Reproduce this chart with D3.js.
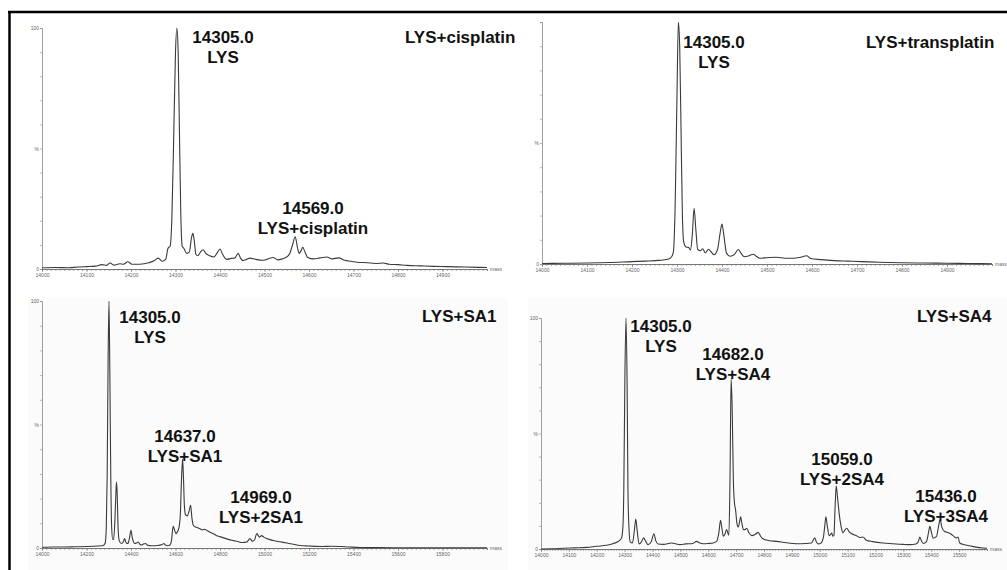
<!DOCTYPE html>
<html><head><meta charset="utf-8">
<script src="https://cdn.jsdelivr.net/npm/d3@7"></script>
<style>html,body{margin:0;padding:0;background:#fff;}svg{display:block;}</style>
</head><body>
<svg id="chart" width="1007" height="570"></svg>
<script>
// ---------- DATA (mass in Da, relative intensity in %) ----------
const cisplatinSpectrum = [[14000,0.5],[14030,0.6],[14060,0.5],[14080,0.8],[14100,1.0],[14120,1.2],[14135,1.8],[14145,1.5],[14153,2.5],[14162,1.6],[14175,2.2],[14183,2.0],[14193,3.0],[14202,2.0],[14220,2.0],[14240,2.6],[14252,3.4],[14261,4.5],[14270,3.2],[14278,4.0],[14283,8.5],[14288,9.5],[14292,22],[14296,55],[14300,90],[14303,100],[14306,90],[14309,55],[14312,22],[14315,9.5],[14319,8.5],[14325,6.5],[14331,7],[14336,13],[14339,14.8],[14342,12],[14346,6],[14350,5.5],[14356,7],[14362,8],[14368,6.5],[14377,5.5],[14386,5],[14393,6.5],[14400,8.3],[14406,6],[14415,4],[14425,4.4],[14433,4.5],[14441,6.5],[14446,4.5],[14452,3.5],[14460,4.0],[14467,4.5],[14480,4.0],[14495,3.6],[14505,4.0],[14519,4.8],[14530,3.8],[14540,4.2],[14550,5.0],[14557,6.5],[14563,10],[14569,13.4],[14574,9],[14578,6.5],[14582,7.5],[14586,9],[14591,7],[14597,4.8],[14610,4.2],[14625,4.6],[14640,5.0],[14652,4.2],[14667,4.6],[14680,3.6],[14695,3.2],[14708,2.8],[14730,2.6],[14750,2.3],[14767,2.5],[14780,2.0],[14800,1.8],[14820,1.5],[14850,1.3],[14880,1.1],[14910,1.0],[14950,0.8],[15000,0.6]];

const transplatinSpectrum = [[14000,0.2],[14050,0.3],[14100,0.4],[14150,0.6],[14200,1.0],[14230,1.2],[14260,1.5],[14280,2.0],[14288,3.0],[14292,5],[14296,25],[14300,70],[14303,100],[14306,90],[14309,55],[14312,20],[14315,9],[14320,7],[14326,6.8],[14330,5.8],[14334,12],[14338,23],[14342,14],[14346,6],[14352,5.5],[14357,6.3],[14363,4.6],[14370,6.1],[14376,5],[14382,3.8],[14390,6],[14396,13],[14400,16.5],[14404,12],[14410,4.5],[14418,3.2],[14428,4],[14436,6],[14442,4.5],[14450,3.0],[14460,3.4],[14469,4.0],[14476,3.2],[14484,2.4],[14500,2.6],[14521,2.8],[14540,2.4],[14558,2.4],[14575,2.8],[14588,3.4],[14597,2.3],[14620,1.8],[14650,1.4],[14680,1.2],[14710,1.0],[14750,0.7],[14800,0.5],[14850,0.4],[14900,0.3],[14950,0.2],[15000,0.1]];

const sa1Spectrum = [[14000,0.3],[14050,0.4],[14100,0.4],[14150,0.5],[14200,0.6],[14250,0.8],[14275,1.0],[14284,2],[14289,8.5],[14293,30],[14297,75],[14301,100],[14305,70],[14309,30],[14313,8.5],[14318,3.5],[14322,3.5],[14328,12],[14332,22],[14335,26.7],[14338,22],[14342,8],[14347,3],[14357,1.8],[14365,2.4],[14371,3.8],[14378,2.2],[14386,1.8],[14393,4],[14400,7.2],[14406,4],[14418,1.8],[14425,2],[14432,2.4],[14440,1.5],[14447,1.2],[14456,1.6],[14465,1.8],[14475,1.1],[14490,0.9],[14520,1.0],[14540,1.4],[14547,1.8],[14555,1.2],[14565,0.9],[14575,1.2],[14582,3],[14587,7.5],[14590,8.8],[14595,7.5],[14602,5.8],[14608,6.5],[14612,7.2],[14617,9],[14622,14],[14627,28],[14632,36],[14636,28],[14640,17],[14645,13.5],[14653,13],[14660,14.5],[14668,17.3],[14674,12],[14680,9.2],[14690,8.5],[14700,8.2],[14710,7.8],[14720,7.3],[14730,7.6],[14740,7.2],[14755,6.4],[14770,5.8],[14785,5.0],[14800,4.6],[14820,4.0],[14840,3.4],[14860,3.0],[14880,2.6],[14900,2.2],[14920,2.4],[14935,3.8],[14945,2.8],[14955,3.2],[14965,5.8],[14972,5.0],[14977,4.4],[14987,5.0],[14997,4.4],[15010,3.8],[15040,3.0],[15070,2.5],[15100,2.0],[15130,1.5],[15160,1.0],[15200,0.8],[15260,0.6],[15300,0.7],[15340,0.6],[15380,0.4],[15430,0.2],[15500,0.15],[15700,0.1],[16000,0.1]];

const sa4Spectrum = [[14000,0],[14040,0.1],[14080,0.3],[14120,0.5],[14164,0.7],[14200,1.2],[14235,1.6],[14255,2.2],[14265,2.6],[14280,3.5],[14289,4.8],[14294,10],[14297,25],[14301,75],[14305,100],[14309,70],[14312,25],[14316,8],[14320,3],[14328,2.6],[14335,8],[14340,13],[14345,8],[14352,2.2],[14360,3.0],[14368,4.8],[14376,3.2],[14384,1.9],[14395,3],[14405,6.6],[14412,3.5],[14420,2.2],[14440,2.0],[14468,2.6],[14485,2.2],[14498,1.9],[14520,2.2],[14545,2.4],[14558,3.3],[14570,2.6],[14582,2.3],[14600,2.4],[14618,2.6],[14630,3.3],[14638,7],[14644,12.4],[14649,9],[14654,5.5],[14660,6.5],[14666,8.4],[14670,7],[14674,6],[14678,30],[14682,73.7],[14686,60],[14690,30],[14694,20],[14698,17],[14703,11],[14708,9.5],[14712,11.5],[14716,13.9],[14721,11],[14726,8.4],[14732,8.4],[14738,9],[14746,7],[14756,5.8],[14768,6.3],[14779,7.2],[14788,5.5],[14797,4.3],[14820,3.6],[14845,3.3],[14880,2.7],[14916,2.3],[14950,2.4],[14970,2.6],[14982,4.8],[14988,3],[14994,2.2],[15005,2.6],[15013,5],[15018,10],[15022,13.9],[15027,10],[15034,5.8],[15040,6.5],[15043,6.9],[15047,5.5],[15051,6],[15055,18],[15059,27.4],[15064,22],[15071,14],[15077,9.5],[15083,7],[15090,8.2],[15097,9],[15105,7.5],[15115,6.6],[15130,5.8],[15145,5.0],[15155,5.2],[15167,3.8],[15190,3.2],[15227,2.6],[15260,2.3],[15300,2.0],[15323,1.9],[15345,2.2],[15353,3],[15359,5.2],[15365,3.5],[15371,2.4],[15383,3.2],[15390,7],[15395,9.8],[15401,7],[15407,4.7],[15413,5],[15419,5.5],[15425,9],[15432,12.7],[15438,9.5],[15448,7.6],[15458,7.2],[15466,6.8],[15478,5.8],[15490,4.8],[15496,5.2],[15502,2.6],[15520,1.8],[15538,1.4],[15560,0.8],[15584,0.4],[15600,0.3]];

// x tick labels per panel
const ticksCis   = [14000,14100,14200,14300,14400,14500,14600,14700,14800,14900];
const ticksTrans = [14000,14100,14200,14300,14400,14500,14600,14700,14800,14900];
const ticksSA1   = [14000,14200,14400,14600,14800,15000,15200,15400,15600,15800];
const ticksSA4   = [14000,14100,14200,14300,14400,14500,14600,14700,14800,14900,15000,15100,15200,15300,15400,15500];

// panel titles and peak annotations (text)
const panelTitles = ["LYS+cisplatin","LYS+transplatin","LYS+SA1","LYS+SA4"];
const cisPeaks   = [["14305.0","LYS"],["14569.0","LYS+cisplatin"]];
const transPeaks = [["14305.0","LYS"]];
const sa1Peaks   = [["14305.0","LYS"],["14637.0","LYS+SA1"],["14969.0","LYS+2SA1"]];
const sa4Peaks   = [["14305.0","LYS"],["14682.0","LYS+SA4"],["15059.0","LYS+2SA4"],["15436.0","LYS+3SA4"]];

// ---------- LAYOUT ----------
const svg = d3.select("#chart");
const FONT = "'Liberation Sans', Arial, Helvetica, sans-serif";

// very subtle panel backgrounds of the lower row
svg.append("rect").attr("x",28).attr("y",298).attr("width",480).attr("height",272).attr("fill","#fbfbfb");
svg.append("rect").attr("x",528).attr("y",298).attr("width",479).attr("height",272).attr("fill","#fbfbfb");

const panels = [
  {data:cisplatinSpectrum, ticks:ticksCis, x:[42,487], y:[269,28], dom:[14000,15000], minor:10, show100:true,
   title:[405,43], peaks:cisPeaks, peakPos:[[223,43],[313,214]]},
  {data:transplatinSpectrum, ticks:ticksTrans, x:[542,992], y:[264,22], dom:[14000,15000], minor:10, show100:false,
   title:[866,48], peaks:transPeaks, peakPos:[[714,48]]},
  {data:sa1Spectrum, ticks:ticksSA1, x:[42,487], y:[548,301], dom:[14000,16000], minor:20, show100:true,
   title:[422,322], peaks:sa1Peaks, peakPos:[[150,323],[185,442],[261,503]]},
  {data:sa4Spectrum, ticks:ticksSA4, x:[541,987], y:[549,318], dom:[14000,15600], minor:10, show100:true,
   title:[917,322], peaks:sa4Peaks, peakPos:[[661,332],[733,360],[842,465],[946,502]]}
];

panels.forEach((p,i) => {
  const x = d3.scaleLinear().domain(p.dom).range(p.x);
  const y = d3.scaleLinear().domain([0,100]).range(p.y);
  const g = svg.append("g");

  // x axis: minor ticks
  const minorTicks = d3.range(p.dom[0], p.dom[1] + 0.001, p.minor);
  const xAxisMinor = d3.axisBottom(x).tickValues(minorTicks).tickSize(2).tickFormat("");
  const ga = g.append("g").attr("transform",`translate(0,${p.y[0]})`).call(xAxisMinor);
  // major ticks + labels
  const xAxis = d3.axisBottom(x).tickValues(p.ticks).tickSize(3).tickPadding(1).tickFormat(d3.format("d"));
  const gb = g.append("g").attr("transform",`translate(0,${p.y[0]})`).call(xAxis);
  [ga,gb].forEach(a => {
    a.select(".domain").attr("stroke","#555").attr("stroke-width",0.8);
    a.selectAll(".tick line").attr("stroke","#777").attr("stroke-width",0.6);
    a.selectAll(".tick text").attr("fill","#666").style("font-family",FONT).style("font-size","5px");
  });
  gb.select(".domain").remove();
  // "mass" label
  g.append("text").attr("x",p.x[1]+3).attr("y",p.y[0]+2).text("mass")
    .attr("fill","#666").style("font-family",FONT).style("font-size","5px");

  // y axis
  const yAxis = d3.axisLeft(y).tickValues(d3.range(0,101,10)).tickSize(2).tickPadding(1)
    .tickFormat(d => d===0 ? "0" : d===50 ? "%" : (d===100 && p.show100) ? "100" : "");
  const gy = g.append("g").attr("transform",`translate(${p.x[0]},0)`).call(yAxis);
  gy.select(".domain").attr("stroke","#888").attr("stroke-width",0.8);
  gy.selectAll(".tick line").attr("stroke","#888").attr("stroke-width",0.6);
  gy.selectAll(".tick text").attr("fill","#666").style("font-family",FONT).style("font-size","5px");

  // spectrum trace
  const line = d3.line().x(d => x(d[0])).y(d => y(d[1])).curve(d3.curveMonotoneX);
  g.append("path").datum(p.data).attr("d",line).attr("fill","none")
    .attr("stroke","#3a3a3a").attr("stroke-width",1.1).attr("stroke-linejoin","round");

  // title
  g.append("text").attr("x",p.title[0]).attr("y",p.title[1]).text(panelTitles[i])
    .attr("fill","#111").style("font-family",FONT).style("font-weight","bold").style("font-size","17px");

  // peak annotations
  p.peaks.forEach((pk,j) => {
    const [cx,by] = p.peakPos[j];
    const t = g.append("text").attr("text-anchor","middle").attr("fill","#111")
      .style("font-family",FONT).style("font-weight","bold").style("font-size","17px");
    t.append("tspan").attr("x",cx).attr("y",by).text(pk[0]);
    t.append("tspan").attr("x",cx).attr("y",by+19.5).text(pk[1]);
  });
});

// outer frame (top and left edges visible)
svg.append("line").attr("x1",9.5).attr("x2",9.5).attr("y1",11).attr("y2",570).attr("stroke","#000").attr("stroke-width",2.5);
svg.append("line").attr("x1",8).attr("x2",1007).attr("y1",12).attr("y2",12).attr("stroke","#000").attr("stroke-width",2.5);
</script>
</body></html>
